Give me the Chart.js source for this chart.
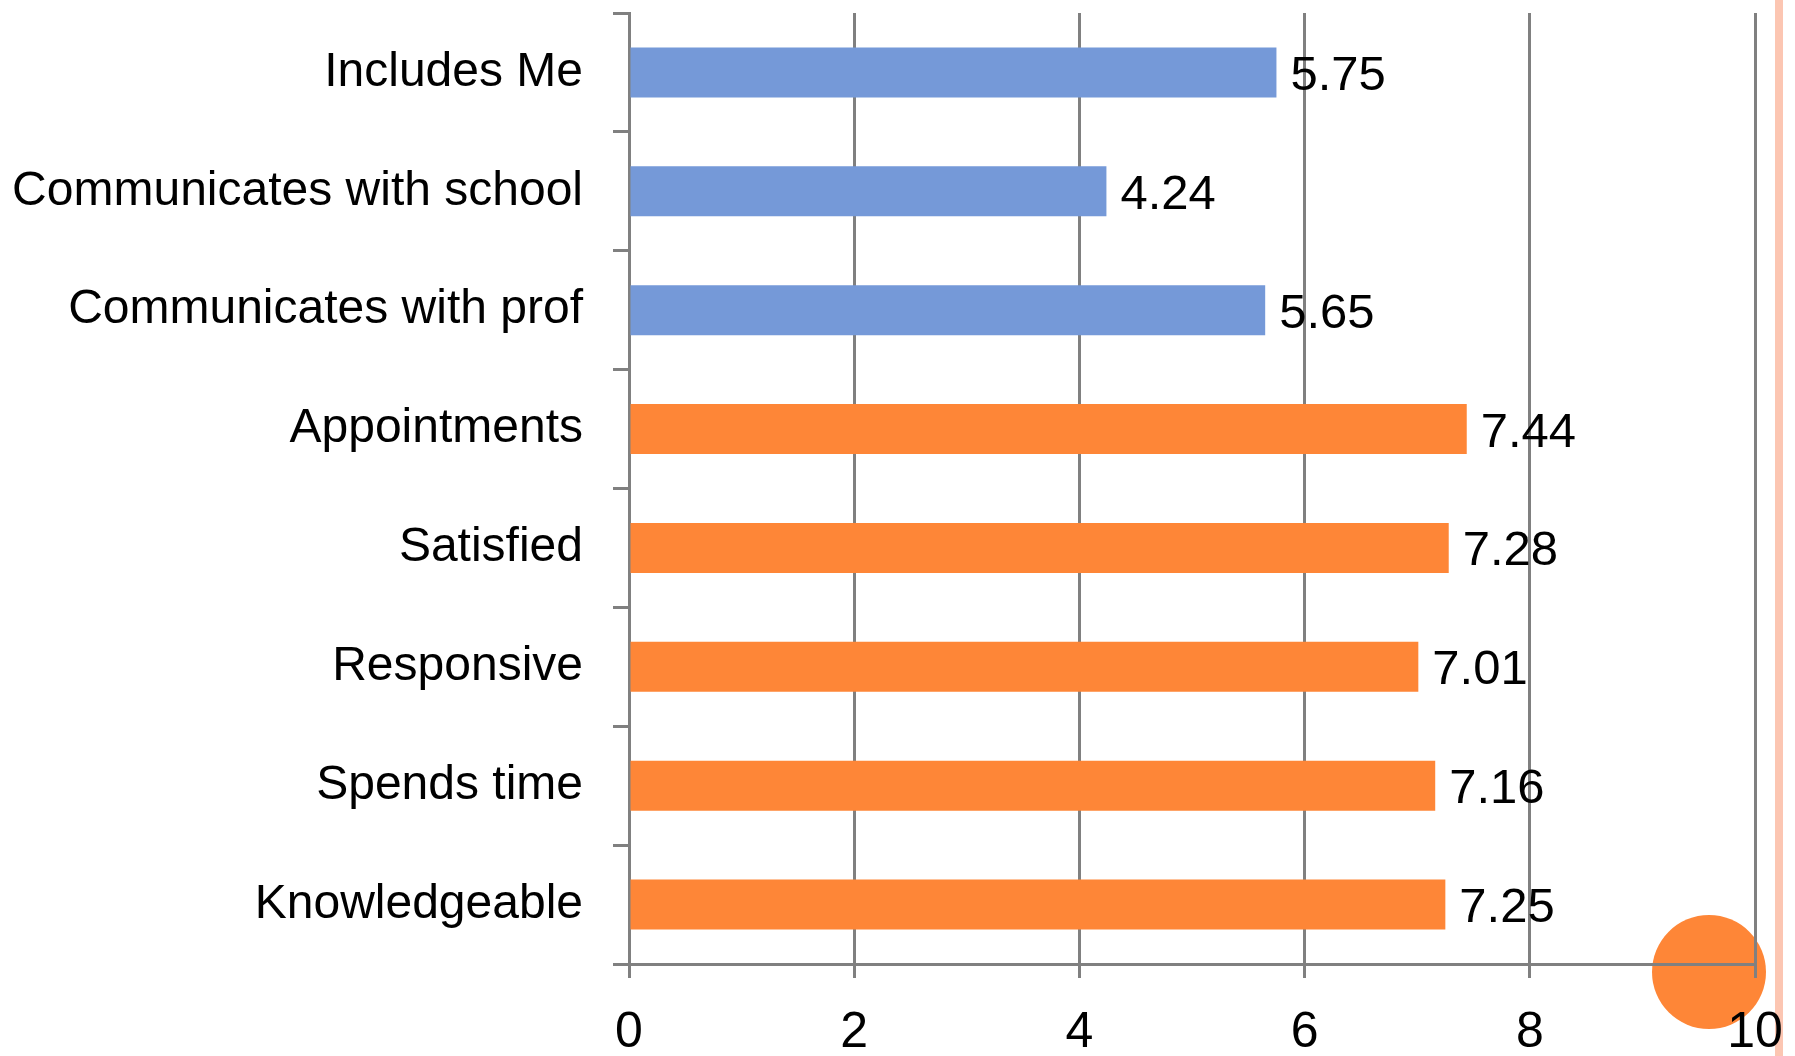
<!DOCTYPE html>
<html>
<head>
<meta charset="utf-8">
<script src="https://cdn.jsdelivr.net/npm/chart.js@4.4.1/dist/chart.umd.min.js"></script>
<style>
    html, body { margin: 0; padding: 0; background: #ffffff; }
    #wrap { width: 1795px; height: 1056px; position: relative; }
</style>
</head>
<body>
<div id="wrap"><canvas id="chart-scores"></canvas></div>
<script>
// Survey items, top to bottom
const items = [
    'Includes Me',
    'Communicates with school',
    'Communicates with prof',
    'Appointments',
    'Satisfied',
    'Responsive',
    'Spends time',
    'Knowledgeable'
];
const scores = [5.75, 4.24, 5.65, 7.44, 7.28, 7.01, 7.16, 7.25];
// which group each item belongs to (drives the bar colour)
const groups = ['comm', 'comm', 'comm', 'care', 'care', 'care', 'care', 'care'];
const xTicks = [0, 2, 4, 6, 8, 10];

const groupColors = { comm: '#7599D8', care: '#FE8637' };
const gridGray = '#808080';
const fontFamily = '"Liberation Sans", Arial, sans-serif';

// orange dot in the lower right corner and the salmon edge stripe
const decorPlugin = {
    id: 'decor',
    beforeDraw(chart) {
        const ctx = chart.ctx;
        ctx.save();
        ctx.fillStyle = '#FCC6B2';
        ctx.fillRect(1775, 0, 8, chart.height);
        ctx.fillStyle = '#FE8637';
        ctx.beginPath();
        ctx.arc(1709, 972, 57, 0, Math.PI * 2);
        ctx.fill();
        ctx.restore();
    }
};

// value printed to the right of each bar
const valueLabels = {
    id: 'valueLabels',
    afterDatasetsDraw(chart) {
        const ctx = chart.ctx;
        const meta = chart.getDatasetMeta(0);
        ctx.save();
        ctx.font = '49px ' + fontFamily;
        ctx.fillStyle = '#000000';
        ctx.textAlign = 'left';
        ctx.textBaseline = 'middle';
        meta.data.forEach((bar, i) => {
            ctx.fillText(scores[i].toFixed(2), bar.x + 14, bar.y + 4);
        });
        ctx.restore();
    }
};

// fixed axis boxes, no extra room for overhanging labels
function fitX(axis) {
    axis.height = 92;
    axis.paddingLeft = 0;
    axis.paddingRight = 0;
}
function fitY(axis) {
    axis.width = 629;
    axis.paddingTop = 0;
    axis.paddingBottom = 0;
}

const ctx = document.getElementById('chart-scores').getContext('2d');
new Chart(ctx, {
    type: 'bar',
    data: {
        labels: items,
        datasets: [{
            data: scores,
            backgroundColor: groups.map(g => groupColors[g]),
            borderWidth: 0,
            categoryPercentage: 1,
            barPercentage: 0.42
        }]
    },
    options: {
        indexAxis: 'y',
        responsive: true,
        maintainAspectRatio: false,
        animation: false,
        layout: { padding: { top: 13, right: 40, left: 0, bottom: 0 } },
        plugins: {
            legend: { display: false },
            tooltip: { enabled: false }
        },
        scales: {
            x: {
                min: 0,
                max: 10,
                afterBuildTicks: axis => { axis.ticks = xTicks.map(v => ({ value: v })); },
                afterFit: fitX,
                grid: { color: gridGray, lineWidth: 3, tickLength: 14 },
                border: { color: gridGray, width: 3 },
                ticks: {
                    color: '#000000',
                    padding: 25,
                    maxRotation: 0,
                    font: { family: fontFamily, size: 50 }
                }
            },
            y: {
                afterFit: fitY,
                grid: {
                    drawOnChartArea: false,
                    color: gridGray,
                    lineWidth: 3,
                    tickLength: 16
                },
                border: { color: gridGray, width: 3 },
                ticks: {
                    color: '#000000',
                    padding: 30,
                    font: { family: fontFamily, size: 48 }
                }
            }
        }
    },
    plugins: [decorPlugin, valueLabels]
});
</script>
</body>
</html>
